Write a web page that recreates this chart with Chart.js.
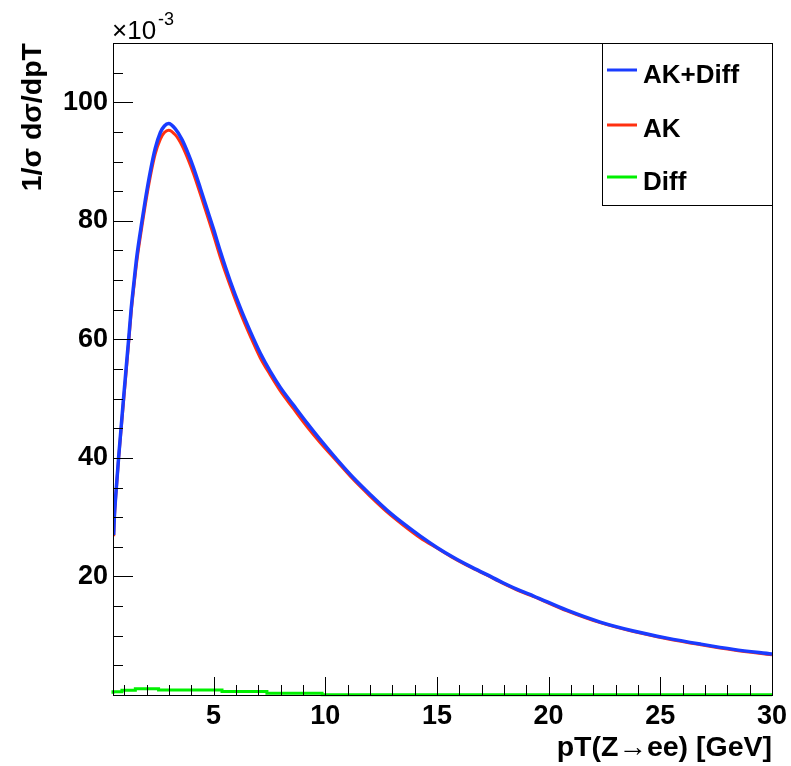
<!DOCTYPE html>
<html>
<head>
<meta charset="utf-8">
<script src="https://cdn.jsdelivr.net/npm/chart.js@4.4.1/dist/chart.umd.min.js"></script>
<style>
  html, body { margin: 0; padding: 0; background: #fff; }
</style>
</head>
<body>
<canvas id="c" width="791" height="766"></canvas>
<script>
const ptBins = [0.53, 0.56, 0.63, 0.75, 0.97, 1.2, 1.31, 1.42, 1.57, 1.8, 1.95, 2.17, 2.39, 2.62, 2.8,
    2.99, 3.29, 3.59, 3.88, 4.11, 4.41, 4.71, 5.0, 5.3, 5.75, 6.2, 6.65, 7.09, 7.54, 7.99, 8.58, 9.18, 9.75,
    10.53, 11.27, 12.02, 12.76, 13.51, 14.26, 15.0, 15.75, 16.49, 17.24, 17.98, 18.73, 19.33, 20.82,
    22.31, 23.8, 25.3, 26.79, 28.28, 30.0];
// 1/sigma dsigma/dpT, units of 1e-3
const akDiff = [27.0, 30.0, 34.0, 40.0, 50.0, 60.0, 65.0, 69.0, 74.1, 80.0, 83.6, 88.3, 92.2, 94.9, 96.0,
    96.4, 95.5, 93.7, 91.2, 88.9, 85.5, 82.0, 78.6, 74.9, 69.8, 65.3, 61.3, 57.7, 54.6, 51.9, 48.9, 45.9, 43.2,
    39.7, 36.6, 33.8, 31.2, 28.9, 26.8, 24.9, 23.2, 21.7, 20.3, 18.9, 17.6, 16.7, 14.3,
    12.3, 10.8, 9.6, 8.6, 7.7, 6.9];
const ak = [26.8, 29.8, 33.8, 39.8, 49.4, 59.4, 64.4, 68.4, 73.3, 79.2, 82.8, 87.5, 91.3, 93.8, 94.9,
    95.3, 94.5, 92.7, 90.2, 87.9, 84.5, 81.0, 77.6, 73.9, 69.0, 64.5, 60.5, 56.9, 54.0, 51.3, 48.3, 45.3, 42.7,
    39.4, 36.3, 33.5, 30.9, 28.6, 26.5, 24.8, 23.1, 21.6, 20.2, 18.8, 17.5, 16.6, 14.2,
    12.2, 10.7, 9.5, 8.5, 7.6, 6.8];
// Diff component, step edges
const diffX = [0.5, 0.9, 1.5, 2.54, 5.38, 7.39, 9.86, 14.78, 30.0];
const diffY = [0.2, 0.55, 0.8, 1.05, 0.85, 0.6, 0.3, 0.05, 0.05];

const seriesNames = ['AK+Diff', 'AK', 'Diff'];
const seriesColors = ['#1a3cff', '#ff3010', '#00f000'];
const xTicks = [5, 10, 15, 20, 25, 30];
const yTicks = [20, 40, 60, 80, 100];

const toPoints = (xs, ys) => xs.map((x, i) => ({ x: x, y: ys[i] }));

const rootStyle = {
    id: 'rootStyle',
    afterDraw(chart) {
        const ctx = chart.ctx;
        const a = chart.chartArea;
        const xs = chart.scales.x, ys = chart.scales.y;
        ctx.save();
        ctx.strokeStyle = '#000';
        ctx.lineWidth = 1;
        ctx.strokeRect(Math.round(a.left) + 0.5, Math.round(a.top) + 0.5,
            Math.round(a.right - a.left), Math.round(a.bottom - a.top));

        // inward ticks, ROOT style
        ctx.beginPath();
        for (let v = 1; v <= 30; v++) {
            const px = Math.round(xs.getPixelForValue(v)) + 0.5;
            const len = v % 5 === 0 ? 18 : 10;
            ctx.moveTo(px, a.bottom);
            ctx.lineTo(px, a.bottom - len);
        }
        for (let v = 5; v <= 110; v += 5) {
            const py = Math.round(ys.getPixelForValue(v)) + 0.5;
            const len = v % 20 === 0 ? 20 : 10;
            ctx.moveTo(a.left, py);
            ctx.lineTo(a.left + len, py);
        }
        ctx.stroke();

        // exponent label
        ctx.fillStyle = '#000';
        ctx.textBaseline = 'alphabetic';
        ctx.textAlign = 'left';
        ctx.font = '26px "Liberation Sans", Arial, sans-serif';
        ctx.fillText('\u00d710', a.left - 1, 39);
        const w = ctx.measureText('\u00d710').width;
        ctx.font = '18px "Liberation Sans", Arial, sans-serif';
        ctx.fillText('-3', a.left + w + 1, 25);

        // legend box
        const lx = 602, ly = 43, lw = Math.round(a.right) - lx, lh = 162;
        ctx.fillStyle = '#fff';
        ctx.fillRect(lx, ly, lw, lh);
        ctx.strokeRect(lx + 0.5, ly + 0.5, lw, lh);
        const lineY = [70, 125, 177];
        const textY = [83, 137, 190];
        ctx.font = 'bold 26px "Liberation Sans", Arial, sans-serif';
        seriesNames.forEach((name, i) => {
            ctx.strokeStyle = seriesColors[i];
            ctx.lineWidth = 3;
            ctx.beginPath();
            ctx.moveTo(607, lineY[i]);
            ctx.lineTo(637, lineY[i]);
            ctx.stroke();
            ctx.fillStyle = '#000';
            ctx.fillText(name, 643, textY[i]);
        });
        ctx.restore();
    }
};

const tickFont = { family: '"Liberation Sans", Arial, sans-serif', size: 27, weight: 'bold' };
const titleFont = { family: '"Liberation Sans", Arial, sans-serif', size: 28.5, weight: 'bold' };

new Chart(document.getElementById('c').getContext('2d'), {
    type: 'line',
    data: {
        datasets: [
            { label: seriesNames[0], data: toPoints(ptBins, akDiff), borderColor: seriesColors[0], borderWidth: 3.5, pointRadius: 0, fill: false, cubicInterpolationMode: 'monotone' },
            { label: seriesNames[1], data: toPoints(ptBins, ak), borderColor: seriesColors[1], borderWidth: 3, pointRadius: 0, fill: false, cubicInterpolationMode: 'monotone' },
            { label: seriesNames[2], data: toPoints(diffX, diffY), borderColor: seriesColors[2], borderWidth: 3, pointRadius: 0, fill: false, stepped: 'after', clip: false }
        ]
    },
    options: {
        responsive: false,
        animation: false,
        layout: { padding: { left: 0, right: 19, top: 43, bottom: 0 } },
        plugins: {
            legend: { display: false },
            tooltip: { enabled: false }
        },
        scales: {
            x: {
                type: 'linear',
                min: 0.5,
                max: 30,
                grid: { display: false, drawTicks: false },
                border: { display: false },
                afterBuildTicks: s => { s.ticks = xTicks.map(v => ({ value: v })); },
                afterFit: s => { s.height = 71; s.paddingLeft = 0; s.paddingRight = 0; },
                ticks: { color: '#000', font: tickFont, padding: 5, maxRotation: 0 },
                title: { display: true, text: 'pT(Z\u2192ee) [GeV]', align: 'end', color: '#000', font: titleFont, padding: { top: 0, bottom: 1 } }
            },
            y: {
                min: 0,
                max: 110,
                grid: { display: false, drawTicks: false },
                border: { display: false },
                afterBuildTicks: s => { s.ticks = yTicks.map(v => ({ value: v })); },
                afterFit: s => { s.width = 113; s.paddingTop = 0; s.paddingBottom = 0; },
                ticks: { color: '#000', font: tickFont, padding: 5 },
                title: { display: true, text: '1/\u03c3 d\u03c3/dpT', align: 'end', color: '#000', font: titleFont, padding: { top: 16, bottom: 0 } }
            }
        }
    },
    plugins: [rootStyle]
});
</script>
</body>
</html>
